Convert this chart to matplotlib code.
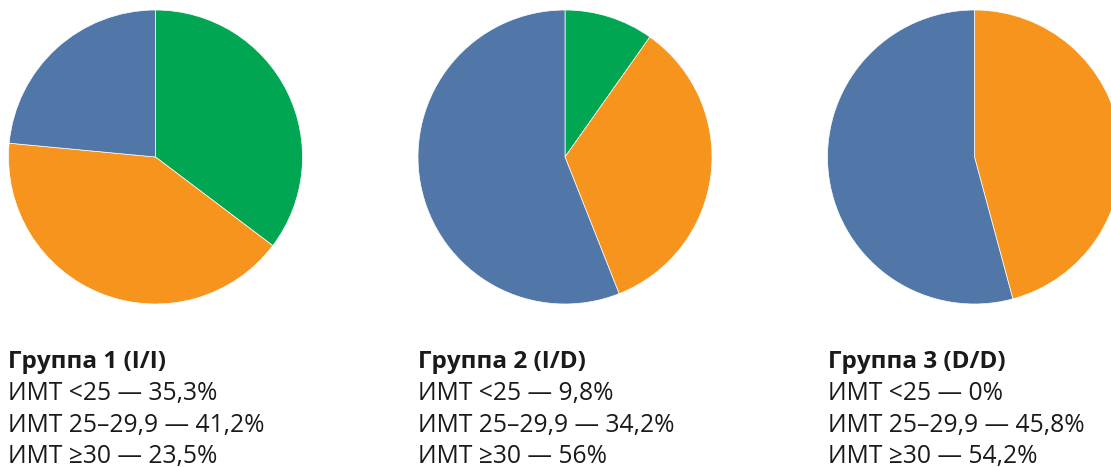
import matplotlib
matplotlib.use("Agg")
import matplotlib.pyplot as plt

groups = ["Группа 1 (I/I)", "Группа 2 (I/D)", "Группа 3 (D/D)"]
categories = ["ИМТ <25", "ИМТ 25–29,9", "ИМТ ≥30"]
g1 = [35.3, 41.2, 23.5]
g2 = [9.8, 34.2, 56.0]
g3 = [0.0, 45.8, 54.2]
labels = [["35,3%", "41,2%", "23,5%"],
          ["9,8%", "34,2%", "56%"],
          ["0%", "45,8%", "54,2%"]]
colors = ["#00A651", "#F7941E", "#5177A8"]

W, H = 1111, 467
fig = plt.figure(figsize=(W / 100, H / 100), dpi=100)
ax = fig.add_axes([0, 0, 1, 1])

centers_x = [155.5, 565, 974.5]
cy = H - 157
R = 147
for vals, cx in zip([g1, g2, g3], centers_x):
    ax.pie(vals, colors=colors, startangle=90, counterclock=False,
           center=(cx, cy), radius=R, frame=True,
           wedgeprops=dict(edgecolor="white", linewidth=0.5))
ax.set_xlim(0, W)
ax.set_ylim(0, H)
ax.set_aspect("equal")
ax.axis("off")

text_x = [8, 418, 828]
baselines = [368, 400, 432, 463]
fam = ["Open Sans", "DejaVu Sans"]
for gi, (gname, tx) in enumerate(zip(groups, text_x)):
    fig.text(tx / W, 1 - baselines[0] / H, gname, fontsize=17.5, fontweight="bold",
             family=fam, color="#1a1a1a", va="baseline", ha="left")
    for ci, cat in enumerate(categories):
        fig.text(tx / W, 1 - baselines[ci + 1] / H, f"{cat} — {labels[gi][ci]}",
                 fontsize=17.7, family=fam, color="#1a1a1a", va="baseline", ha="left")

fig.savefig("out.png", dpi=100)
